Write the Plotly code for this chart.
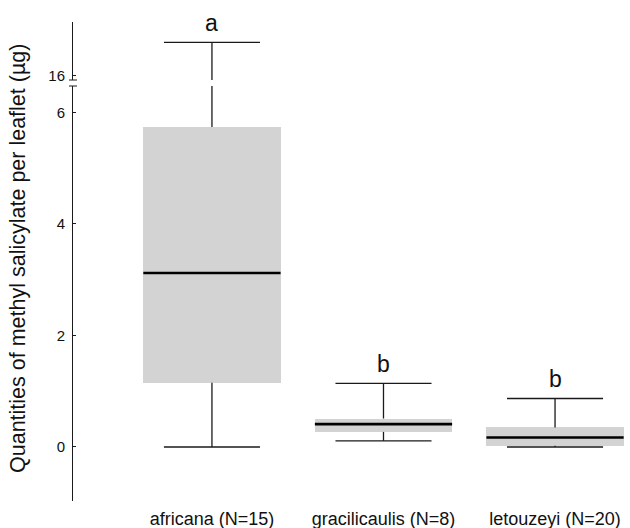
import plotly.graph_objects as go

# ---- data ----
categories = ["africana (N=15)", "gracilicaulis (N=8)", "letouzeyi (N=20)"]
lower_whisker = [0.0, 0.11, 0.0]
q1 = [1.15, 0.27, 0.02]
median = [3.12, 0.41, 0.17]
q3 = [5.74, 0.51, 0.35]
upper_whisker = [19.0, 1.14, 0.87]
letters = ["a", "b", "b"]
low_ticks = [0, 2, 4, 6]
high_ticks = [16]

# ---- layout constants ----
LOW_RANGE = [-0.969, 6.475]
HIGH_RANGE = [15.59, 20.86]
BOX_W = 0.8
CAP_W = 0.56
FONT = "Liberation Sans, Arial, sans-serif"
BOX_COL = "#d3d3d3"
LINE_COL = "#1a1a1a"

W, H = 630, 528
ML, MR, MT, MB = 73, 0, 22, 27
plot_h = H - MT - MB
low_dom = [0, (H - MB - 86) / plot_h]
high_dom = [(H - MB - 80) / plot_h, 1]

xs = list(range(len(categories)))

fig = go.Figure()

# boxes (q1..q3)
fig.add_trace(go.Bar(
    x=xs, base=q1, y=[b - a for a, b in zip(q1, q3)], width=BOX_W,
    marker=dict(color=BOX_COL, line=dict(width=0)), hoverinfo="skip",
    showlegend=False, xaxis="x", yaxis="y"))

# whiskers & caps
wx, wy = [], []
ux, uy = [], []
for x, lo, a, b, hi in zip(xs, lower_whisker, q1, q3, upper_whisker):
    wx += [x, x, None]; wy += [lo, a, None]
    wx += [x - CAP_W / 2, x + CAP_W / 2, None]; wy += [lo, lo, None]
    top = min(hi, LOW_RANGE[1])
    wx += [x, x, None]; wy += [b, top, None]
    if hi <= LOW_RANGE[1]:
        wx += [x - CAP_W / 2, x + CAP_W / 2, None]; wy += [hi, hi, None]
    else:
        ux += [x, x, None]; uy += [HIGH_RANGE[0], hi, None]
        ux += [x - CAP_W / 2, x + CAP_W / 2, None]; uy += [hi, hi, None]

fig.add_trace(go.Scatter(x=wx, y=wy, mode="lines", line=dict(color=LINE_COL, width=1.3),
                         hoverinfo="skip", showlegend=False, xaxis="x", yaxis="y"))
fig.add_trace(go.Scatter(x=ux, y=uy, mode="lines", line=dict(color=LINE_COL, width=1.3),
                         hoverinfo="skip", showlegend=False, xaxis="x", yaxis="y2"))

# medians
mx, my = [], []
for x, m in zip(xs, median):
    mx += [x - BOX_W / 2, x + BOX_W / 2, None]; my += [m, m, None]
fig.add_trace(go.Scatter(x=mx, y=my, mode="lines", line=dict(color="black", width=2.6),
                         hoverinfo="skip", showlegend=False, xaxis="x", yaxis="y"))

# significance letters
for x, hi, t in zip(xs, upper_whisker, letters):
    fig.add_annotation(x=x, y=hi, xref="x", yref="y2" if hi > LOW_RANGE[1] else "y",
                       text=t, showarrow=False, yanchor="bottom", yshift=4,
                       font=dict(family=FONT, size=23, color="#111"))

# y title
fig.add_annotation(x=0, y=(H - MB - 259) / plot_h, xref="paper", yref="paper",
                   xanchor="center", yanchor="middle",
                   xshift=-55, text="Quantities of methyl salicylate per leaflet (µg)",
                   textangle=-90, showarrow=False,
                   font=dict(family=FONT, size=21.5, color="#111"))

# axis break marks
for yp in [low_dom[1], high_dom[0]]:
    fig.add_shape(type="line", xref="paper", yref="paper", xsizemode="pixel", xanchor=0,
                  x0=-4, x1=4, y0=yp, y1=yp, line=dict(color=LINE_COL, width=1))

axis_common = dict(showgrid=False, zeroline=False, showline=True, linecolor=LINE_COL,
                   linewidth=1, ticks="inside", ticklen=3, tickcolor=LINE_COL,
                   automargin=False, ticklabelstandoff=4,
                   tickfont=dict(family=FONT, size=15, color="#111"))

fig.update_layout(
    width=W, height=H, margin=dict(l=ML, r=MR, t=MT, b=MB, autoexpand=False),
    paper_bgcolor="white", plot_bgcolor="white", bargap=0,
    xaxis=dict(range=[-0.81, 2.437], tickvals=xs, ticktext=categories, showgrid=False,
               zeroline=False, showline=False, ticks="outside", ticklen=1,
               tickcolor="rgba(0,0,0,0)", anchor="y", automargin=False,
               tickfont=dict(family=FONT, size=18, color="#111")),
    yaxis=dict(domain=low_dom, range=LOW_RANGE, tickvals=low_ticks, anchor="x", **axis_common),
    yaxis2=dict(domain=high_dom, range=HIGH_RANGE, tickvals=high_ticks, anchor="x", **axis_common),
)

fig.write_html("out.html", config={"displayModeBar": False},
               post_script="document.body.style.margin='0';document.body.style.padding='0';")
